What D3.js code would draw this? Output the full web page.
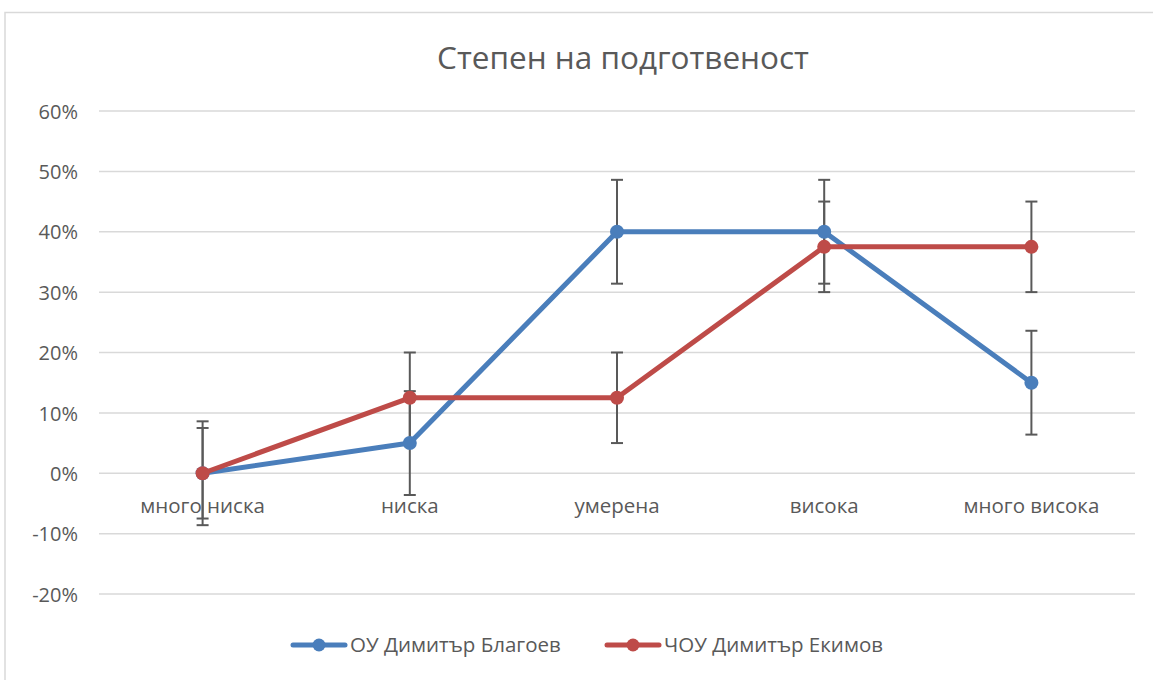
<!DOCTYPE html>
<html><head><meta charset="utf-8">
<script src="https://cdn.jsdelivr.net/npm/d3@7"></script>
<style>body{margin:0;background:#fff;} svg{display:block;font-family:"Open Sans","Noto Sans",sans-serif;}</style>
</head><body>
<svg id="c" width="1153" height="680"></svg>
<script>
const categories = ["много ниска","ниска","умерена","висока","много висока"];
const seriesNames = ["ОУ Димитър Благоев","ЧОУ Димитър Екимов"];
const blueValues = [0, 0.05, 0.40, 0.40, 0.15];
const redValues = [0, 0.125, 0.125, 0.375, 0.375];
const blueErrors = [0.086, 0.086, 0.086, 0.086, 0.086];
const redErrors = [0.075, 0.075, 0.075, 0.075, 0.075];
const yTicks = [-0.2,-0.1,0,0.1,0.2,0.3,0.4,0.5,0.6];
const colors = ["#4a7ebb","#be4b48"];

const svg = d3.select("#c");
// chart border
svg.append("rect").attr("x",5).attr("y",12.5).attr("width",1160).attr("height",680)
  .attr("fill","#fff").attr("stroke","#d9d9d9").attr("stroke-width",1.5);

const x = d3.scaleBand().domain(categories).range([99,1135]);
const y = d3.scaleLinear().domain([-0.2,0.6]).range([594,111]);

// grid
svg.append("g").selectAll("line").data(yTicks).join("line")
  .attr("x1",99).attr("x2",1135).attr("y1",d=>y(d)).attr("y2",d=>y(d))
  .attr("stroke","#d9d9d9").attr("stroke-width",1.5);

// y axis labels
const yAxis = d3.axisLeft(y).tickValues(yTicks).tickFormat(d=>Math.round(d*100)+"%").tickSize(0).tickPadding(0);
const gy = svg.append("g").attr("transform","translate(78,0)").call(yAxis);
gy.select(".domain").remove();
gy.selectAll("text").attr("fill","#595959").attr("dy","0.36em").style("font-size","20px").style("font-family","'Open Sans','Noto Sans',sans-serif");

// category labels
svg.append("g").selectAll("text").data(categories).join("text")
  .attr("x",d=>x(d)+x.bandwidth()/2).attr("y",513).attr("text-anchor","middle")
  .attr("fill","#595959").style("font-size","20.5px").text(d=>d);

const cx = i => x(categories[i]) + x.bandwidth()/2;
const series = [
  {name: seriesNames[0], values: blueValues, errors: blueErrors, color: colors[0]},
  {name: seriesNames[1], values: redValues, errors: redErrors, color: colors[1]}
];

// error bars
series.forEach(s=>{
  const g = svg.append("g").attr("stroke","#595959").attr("stroke-width",2);
  s.values.forEach((v,i)=>{
    const e = s.errors[i];
    g.append("line").attr("x1",cx(i)).attr("x2",cx(i)).attr("y1",y(v-e)).attr("y2",y(v+e));
    [v-e, v+e].forEach(t=>g.append("line").attr("x1",cx(i)-6).attr("x2",cx(i)+6).attr("y1",y(t)).attr("y2",y(t)));
  });
});

// lines and markers
const line = d3.line().x((d,i)=>cx(i)).y(d=>y(d));
series.forEach(s=>{
  svg.append("path").datum(s.values).attr("d",line).attr("fill","none")
    .attr("stroke",s.color).attr("stroke-width",5).attr("stroke-linejoin","round").attr("stroke-linecap","round");
  svg.append("g").selectAll("circle").data(s.values).join("circle")
    .attr("cx",(d,i)=>cx(i)).attr("cy",d=>y(d)).attr("r",7).attr("fill",s.color);
});

// title
svg.append("text").attr("x",623).attr("y",69).attr("text-anchor","middle")
  .attr("fill","#595959").style("font-size","31.5px").text("Степен на подготвеност");

// legend
const legX = [293, 607];
series.forEach((s,i)=>{
  const g = svg.append("g").attr("transform",`translate(${legX[i]},645)`);
  g.append("line").attr("x1",0).attr("x2",52).attr("stroke",s.color).attr("stroke-width",5).attr("stroke-linecap","round");
  g.append("circle").attr("cx",26).attr("r",6.5).attr("fill",s.color);
  g.append("text").attr("x",57).attr("y",7).attr("fill","#595959").style("font-size","20.5px").text(s.name);
});
</script>
</body></html>
